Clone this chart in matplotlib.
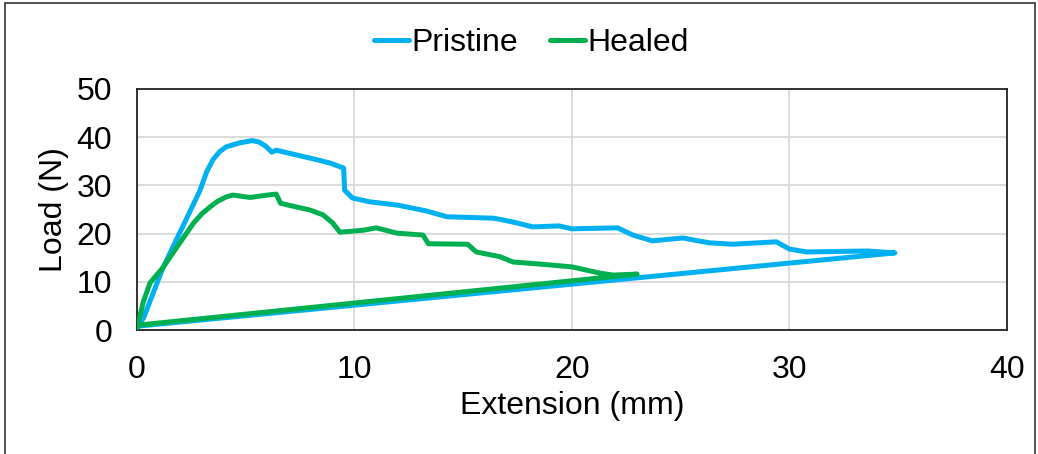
import matplotlib
matplotlib.use("Agg")
import matplotlib.pyplot as plt
from matplotlib.patches import Rectangle

plt.rcParams['font.family'] = ['Liberation Sans', 'DejaVu Sans']

# Load-extension curves (loading path, then unloading back to the origin)
pristine_ext = [0.0, 0.3, 1.2, 2.0, 2.9, 3.2, 3.5, 3.8, 4.1, 4.7, 5.3, 5.6, 5.9, 6.2, 6.4, 7.35,
                8.3, 8.9, 9.5, 9.55, 9.9, 10.7, 12.0, 13.3, 14.25, 16.4, 17.3, 18.2, 19.4,
                20.0, 22.1, 22.8, 23.7, 25.1, 26.3, 27.4, 29.4, 30.0, 30.8, 33.6, 34.85, 0.0]
pristine_load = [0.5, 2.5, 13.0, 20.5, 29.0, 32.8, 35.4, 37.0, 38.0, 38.8, 39.3, 39.0, 38.2, 36.9,
                 37.3, 36.3, 35.3, 34.6, 33.6, 29.0, 27.4, 26.6, 25.9, 24.7, 23.5, 23.2, 22.4,
                 21.4, 21.6, 21.0, 21.2, 19.7, 18.5, 19.1, 18.1, 17.8, 18.3, 16.8, 16.2, 16.4,
                 16.0, 0.8]

healed_ext = [0.0, 0.3, 0.6, 1.2, 1.65, 2.6, 3.0, 3.35, 3.7, 4.1, 4.4, 5.2, 6.0, 6.4, 6.6, 7.35,
              7.95, 8.55, 9.0, 9.33, 10.4, 11.0, 11.95, 13.15, 13.4, 15.2, 15.6, 16.7, 17.3,
              18.5, 20.0, 21.3, 21.9, 23.0, 0.0]
healed_load = [0.5, 6.0, 9.8, 13.0, 16.0, 22.2, 24.2, 25.5, 26.7, 27.6, 28.0, 27.5, 28.0, 28.2,
               26.3, 25.5, 24.9, 23.9, 22.2, 20.3, 20.7, 21.2, 20.1, 19.7, 17.9, 17.8, 16.2,
               15.2, 14.1, 13.7, 13.1, 11.8, 11.4, 11.6, 1.0]

x_ticks = [0, 10, 20, 30, 40]
y_ticks = [0, 10, 20, 30, 40, 50]

fig = plt.figure(figsize=(10.38, 4.54), dpi=100)
ax = fig.add_axes([0.132, 0.273, 0.838, 0.531])

ax.plot(pristine_ext, pristine_load, color='#00B0F0', lw=3.6, label='Pristine',
        solid_joinstyle='round', solid_capstyle='round', zorder=3)
ax.plot(healed_ext, healed_load, color='#00B050', lw=3.6, label='Healed',
        solid_joinstyle='round', solid_capstyle='round', zorder=4)

ax.set_xlim(0, 40)
ax.set_ylim(0, 50)
ax.set_xticks(x_ticks)
ax.set_yticks(y_ticks)
ax.grid(True, color='#d9d9d9', lw=1.3)
ax.set_axisbelow(True)
ax.tick_params(length=0, labelsize=23)
ax.tick_params(axis='x', pad=18)
ax.tick_params(axis='y', pad=18)
for s in ax.spines.values():
    s.set_color('#222222')
    s.set_linewidth(1.3)

ax.set_xlabel('Extension (mm)', fontsize=23, labelpad=4)
ax.set_ylabel('Load (N)', fontsize=23, labelpad=5)

fig.legend(loc='center', bbox_to_anchor=(0.512, 0.905), ncol=2, frameon=False,
           fontsize=23, handlelength=1.1, handletextpad=0.08, columnspacing=1.0)

# Outer chart frame
fig.patches.append(Rectangle((0.005, -0.1), 0.992, 1.093, transform=fig.transFigure,
                             fill=False, edgecolor='#444444', lw=1.3))

fig.savefig('out.png', dpi=100)
